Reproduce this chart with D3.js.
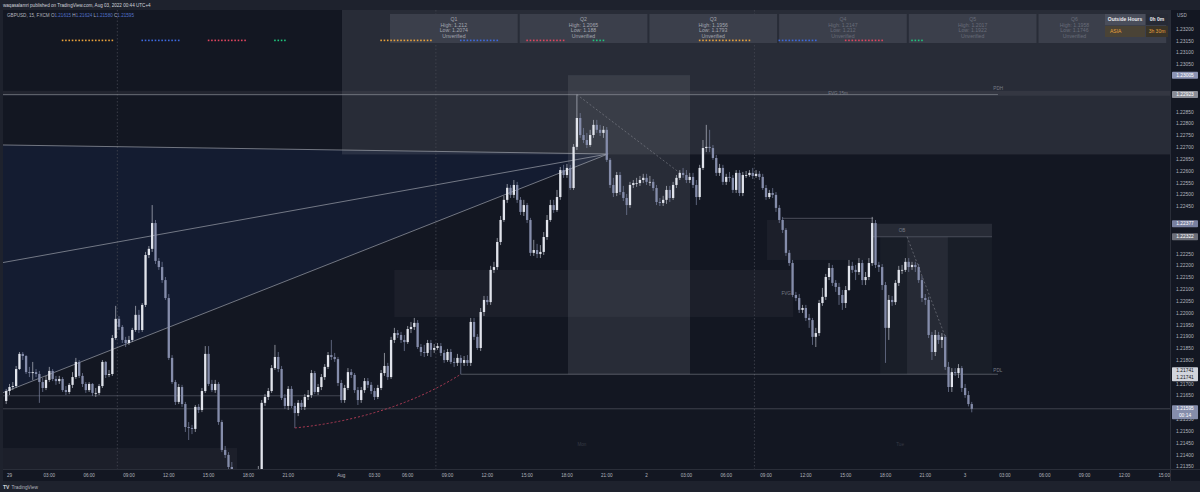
<!DOCTYPE html>
<meta charset="utf-8">
<style>
    body { margin: 0; background: #1e222d; }
    svg { display: block; }
    text { font-family: "Liberation Sans", Arial, sans-serif; }
</style>
<body>
<script src="https://d3js.org/d3.v7.min.js"></script>
<script>
    var width = 1200
    var height = 492

    // GBPUSD 15m, first bar has index -1 (bar 0 = Jul 29 00:00), last bar = Aug 3 00:30
    var firstOpen = 1.21628
    var closes = [
        1.21670, 1.21687, 1.21691, 1.21763, 1.21827, 1.21818, 1.21750, 1.21746, 1.21750, 1.21742,
        1.21708, 1.21683, 1.21717, 1.21755, 1.21721, 1.21712, 1.21721, 1.21674, 1.21666, 1.21696,
        1.21729, 1.21793, 1.21734, 1.21700, 1.21674, 1.21700, 1.21662, 1.21662, 1.21691, 1.21793,
        1.21738, 1.21742, 1.21894, 1.21975, 1.21941, 1.21886, 1.21873, 1.21886, 1.21928, 1.21992,
        1.21928, 1.22034, 1.22245, 1.22271, 1.22380, 1.22220, 1.22194, 1.22139, 1.22063, 1.21810,
        1.21708, 1.21624, 1.21687, 1.21615, 1.21518, 1.21514, 1.21510, 1.21603, 1.21590, 1.21670,
        1.21827, 1.21700, 1.21674, 1.21700, 1.21539, 1.21421, 1.21400, 1.21349, 1.21294, 1.21273,
        1.21302, 1.21260, 1.21286, 1.21269, 1.21294, 1.21302, 1.21336, 1.21620, 1.21645, 1.21670,
        1.21767, 1.21814, 1.21763, 1.21641, 1.21607, 1.21679, 1.21607, 1.21577, 1.21620, 1.21603,
        1.21645, 1.21653, 1.21746, 1.21666, 1.21687, 1.21729, 1.21772, 1.21822, 1.21814, 1.21805,
        1.21704, 1.21632, 1.21683, 1.21750, 1.21738, 1.21674, 1.21632, 1.21674, 1.21712, 1.21696,
        1.21670, 1.21645, 1.21683, 1.21746, 1.21776, 1.21729, 1.21886, 1.21915, 1.21907, 1.21886,
        1.21877, 1.21932, 1.21941, 1.21958, 1.21856, 1.21835, 1.21831, 1.21873, 1.21844, 1.21852,
        1.21860, 1.21831, 1.21801, 1.21835, 1.21793, 1.21789, 1.21810, 1.21789, 1.21801, 1.21789,
        1.21962, 1.21899, 1.21852, 1.22004, 1.22055, 1.22046, 1.22182, 1.22194, 1.22300, 1.22393,
        1.22478, 1.22529, 1.22499, 1.22541, 1.22478, 1.22427, 1.22456, 1.22393, 1.22254, 1.22266,
        1.22249, 1.22258, 1.22321, 1.22393, 1.22456, 1.22435, 1.22490, 1.22604, 1.22583, 1.22613,
        1.22528, 1.22702, 1.22824, 1.22752, 1.22731, 1.22710, 1.22752, 1.22795, 1.22774, 1.22761,
        1.22774, 1.22647, 1.22541, 1.22507, 1.22583, 1.22511, 1.22486, 1.22456, 1.22541, 1.22549,
        1.22549, 1.22562, 1.22571, 1.22554, 1.22554, 1.22528, 1.22469, 1.22465, 1.22478, 1.22520,
        1.22486, 1.22541, 1.22571, 1.22592, 1.22583, 1.22562, 1.22575, 1.22541, 1.22490, 1.22613,
        1.22697, 1.22702, 1.22697, 1.22655, 1.22592, 1.22613, 1.22554, 1.22575, 1.22571, 1.22520,
        1.22592, 1.22507, 1.22583, 1.22583, 1.22592, 1.22579, 1.22588, 1.22575, 1.22528, 1.22490,
        1.22507, 1.22499, 1.22444, 1.22393, 1.22351, 1.22254, 1.22211, 1.22076, 1.22063, 1.22013,
        1.22021, 1.21979, 1.21970, 1.21899, 1.21915, 1.22042, 1.22068, 1.22152, 1.22190, 1.22127,
        1.22110, 1.22076, 1.22042, 1.22097, 1.22199, 1.22182, 1.22173, 1.22211, 1.22139, 1.22152,
        1.22211, 1.22380, 1.22203, 1.22194, 1.22118, 1.21937, 1.22055, 1.22046, 1.22127, 1.22182,
        1.22182, 1.22216, 1.22194, 1.22203, 1.22194, 1.22139, 1.22063, 1.22055, 1.21907, 1.21835,
        1.21907, 1.21886, 1.21899, 1.21772, 1.21687, 1.21750, 1.21746, 1.21767, 1.21683, 1.21653,
        1.21615, 1.21595
    ]
    var highs = [
        1.21679, 1.21700, 1.21708, 1.21776, 1.21835, 1.21835, 1.21822, 1.21772, 1.21793, 1.21763,
        1.21755, 1.21725, 1.21734, 1.21772, 1.21763, 1.21734, 1.21734, 1.21729, 1.21691, 1.21704,
        1.21750, 1.21810, 1.21801, 1.21746, 1.21708, 1.21708, 1.21704, 1.21683, 1.21700, 1.21801,
        1.21797, 1.21759, 1.21907, 1.22030, 1.21987, 1.21949, 1.21899, 1.21903, 1.21937, 1.22030,
        1.22013, 1.22042, 1.22258, 1.22283, 1.22456, 1.22393, 1.22232, 1.22216, 1.22152, 1.22080,
        1.21822, 1.21717, 1.21700, 1.21696, 1.21624, 1.21539, 1.21527, 1.21611, 1.21615, 1.21683,
        1.21860, 1.21860, 1.21717, 1.21717, 1.21708, 1.21548, 1.21438, 1.21412, 1.21370, 1.21311,
        1.21319, 1.21315, 1.21302, 1.21307, 1.21311, 1.21336, 1.21353, 1.21632, 1.21657, 1.21683,
        1.21780, 1.21865, 1.21835, 1.21776, 1.21657, 1.21691, 1.21691, 1.21620, 1.21632, 1.21632,
        1.21657, 1.21674, 1.21759, 1.21755, 1.21700, 1.21742, 1.21784, 1.21835, 1.21886, 1.21831,
        1.21814, 1.21717, 1.21696, 1.21767, 1.21763, 1.21746, 1.21687, 1.21687, 1.21725, 1.21725,
        1.21708, 1.21683, 1.21696, 1.21759, 1.21831, 1.21789, 1.21899, 1.21937, 1.21928, 1.21920,
        1.21907, 1.21945, 1.21962, 1.21979, 1.21970, 1.21869, 1.21865, 1.21886, 1.21886, 1.21869,
        1.21873, 1.21873, 1.21844, 1.21848, 1.21848, 1.21810, 1.21827, 1.21822, 1.21818, 1.21822,
        1.21979, 1.21979, 1.21911, 1.22021, 1.22072, 1.22072, 1.22199, 1.22216, 1.22317, 1.22410,
        1.22495, 1.22545, 1.22541, 1.22562, 1.22554, 1.22490, 1.22478, 1.22465, 1.22402, 1.22309,
        1.22292, 1.22287, 1.22342, 1.22414, 1.22478, 1.22478, 1.22520, 1.22617, 1.22626, 1.22630,
        1.22626, 1.22714, 1.22923, 1.22845, 1.22782, 1.22761, 1.22774, 1.22816, 1.22816, 1.22795,
        1.22790, 1.22786, 1.22655, 1.22571, 1.22596, 1.22596, 1.22537, 1.22503, 1.22554, 1.22562,
        1.22571, 1.22579, 1.22588, 1.22588, 1.22579, 1.22566, 1.22541, 1.22486, 1.22495, 1.22537,
        1.22537, 1.22554, 1.22583, 1.22604, 1.22613, 1.22604, 1.22592, 1.22592, 1.22562, 1.22626,
        1.22731, 1.22795, 1.22774, 1.22710, 1.22668, 1.22630, 1.22626, 1.22588, 1.22596, 1.22583,
        1.22604, 1.22604, 1.22596, 1.22600, 1.22604, 1.22613, 1.22604, 1.22600, 1.22588, 1.22541,
        1.22520, 1.22528, 1.22511, 1.22456, 1.22406, 1.22359, 1.22266, 1.22224, 1.22089, 1.22080,
        1.22034, 1.22034, 1.21996, 1.21979, 1.21937, 1.22055, 1.22106, 1.22165, 1.22211, 1.22203,
        1.22139, 1.22127, 1.22097, 1.22114, 1.22224, 1.22216, 1.22203, 1.22232, 1.22224, 1.22173,
        1.22232, 1.22406, 1.22393, 1.22216, 1.22207, 1.22131, 1.22076, 1.22072, 1.22139, 1.22199,
        1.22203, 1.22232, 1.22232, 1.22216, 1.22216, 1.22207, 1.22156, 1.22080, 1.22068, 1.21920,
        1.21928, 1.21920, 1.21915, 1.21907, 1.21793, 1.21767, 1.21767, 1.21784, 1.21776, 1.21700,
        1.21670, 1.21624
    ]
    var lows = [
        1.21615, 1.21653, 1.21674, 1.21683, 1.21759, 1.21801, 1.21742, 1.21729, 1.21717, 1.21729,
        1.21620, 1.21666, 1.21674, 1.21708, 1.21712, 1.21696, 1.21700, 1.21666, 1.21653, 1.21657,
        1.21683, 1.21721, 1.21725, 1.21687, 1.21662, 1.21666, 1.21649, 1.21645, 1.21653, 1.21683,
        1.21725, 1.21729, 1.21734, 1.21886, 1.21928, 1.21873, 1.21856, 1.21865, 1.21877, 1.21920,
        1.21915, 1.21920, 1.22025, 1.22232, 1.22258, 1.22207, 1.22182, 1.22127, 1.22055, 1.21801,
        1.21700, 1.21611, 1.21615, 1.21603, 1.21497, 1.21463, 1.21488, 1.21497, 1.21577, 1.21581,
        1.21662, 1.21691, 1.21666, 1.21662, 1.21527, 1.21412, 1.21387, 1.21336, 1.21273, 1.21243,
        1.21252, 1.21231, 1.21243, 1.21248, 1.21252, 1.21260, 1.21277, 1.21315, 1.21607, 1.21632,
        1.21662, 1.21759, 1.21750, 1.21632, 1.21594, 1.21590, 1.21598, 1.21514, 1.21564, 1.21590,
        1.21590, 1.21632, 1.21641, 1.21657, 1.21653, 1.21674, 1.21717, 1.21763, 1.21801, 1.21793,
        1.21691, 1.21620, 1.21620, 1.21674, 1.21725, 1.21662, 1.21611, 1.21620, 1.21662, 1.21683,
        1.21657, 1.21632, 1.21636, 1.21674, 1.21734, 1.21717, 1.21721, 1.21873, 1.21894, 1.21873,
        1.21839, 1.21869, 1.21915, 1.21928, 1.21848, 1.21818, 1.21814, 1.21818, 1.21814, 1.21831,
        1.21844, 1.21818, 1.21789, 1.21793, 1.21784, 1.21772, 1.21776, 1.21741, 1.21776, 1.21776,
        1.21776, 1.21886, 1.21844, 1.21839, 1.21987, 1.22034, 1.22034, 1.22169, 1.22182, 1.22287,
        1.22385, 1.22465, 1.22486, 1.22486, 1.22465, 1.22414, 1.22410, 1.22380, 1.22241, 1.22241,
        1.22232, 1.22232, 1.22245, 1.22309, 1.22385, 1.22423, 1.22427, 1.22478, 1.22571, 1.22571,
        1.22520, 1.22520, 1.22689, 1.22740, 1.22718, 1.22697, 1.22702, 1.22740, 1.22761, 1.22748,
        1.22740, 1.22638, 1.22528, 1.22490, 1.22494, 1.22499, 1.22473, 1.22414, 1.22444, 1.22528,
        1.22533, 1.22537, 1.22549, 1.22541, 1.22537, 1.22516, 1.22456, 1.22452, 1.22452, 1.22461,
        1.22469, 1.22478, 1.22528, 1.22562, 1.22571, 1.22549, 1.22549, 1.22528, 1.22456, 1.22478,
        1.22604, 1.22680, 1.22680, 1.22647, 1.22579, 1.22579, 1.22541, 1.22541, 1.22554, 1.22507,
        1.22507, 1.22494, 1.22494, 1.22571, 1.22575, 1.22566, 1.22571, 1.22562, 1.22520, 1.22478,
        1.22482, 1.22486, 1.22427, 1.22380, 1.22338, 1.22241, 1.22199, 1.22067, 1.22050, 1.22000,
        1.22000, 1.21966, 1.21937, 1.21865, 1.21856, 1.21903, 1.22030, 1.22055, 1.22139, 1.22114,
        1.22089, 1.22034, 1.22013, 1.22021, 1.22093, 1.22169, 1.22139, 1.22161, 1.22118, 1.22118,
        1.22139, 1.22199, 1.22190, 1.22173, 1.22097, 1.21789, 1.21886, 1.22030, 1.22034, 1.22114,
        1.22165, 1.22173, 1.22173, 1.22182, 1.22173, 1.22127, 1.22046, 1.22034, 1.21894, 1.21801,
        1.21818, 1.21869, 1.21852, 1.21759, 1.21666, 1.21666, 1.21734, 1.21725, 1.21666, 1.21641,
        1.21605, 1.21580
    ]

    var priceTicks = [
        1.2135, 1.2140, 1.2145, 1.2150, 1.2155, 1.2160, 1.2165, 1.2170, 1.2175, 1.2180,
        1.2185, 1.2190, 1.2195, 1.2200, 1.2205, 1.2210, 1.2215, 1.2220, 1.2225, 1.2230,
        1.2235, 1.2240, 1.2245, 1.2250, 1.2255, 1.2260, 1.2265, 1.2270, 1.2275, 1.2280,
        1.2285, 1.2290, 1.2295, 1.2300, 1.2305, 1.2310, 1.2315, 1.2320
    ]
    var timeLabels = ['29', '03:00', '06:00', '09:00', '12:00', '15:00', '18:00', '21:00', 'Aug', '03:30',
        '06:00', '09:00', '12:00', '15:00', '18:00', '21:00', '2', '03:00', '06:00', '09:00', '12:00',
        '15:00', '18:00', '21:00', '3', '03:00', '06:00', '09:00', '12:00', '15:00']
    var timeLabelBars = [0, 12, 24, 36, 48, 60, 72, 84, 100, 110, 120, 132, 144, 156, 168, 180, 192,
        204, 216, 228, 240, 252, 264, 276, 288, 300, 312, 324, 336, 348]
    var daySeparators = [32.5, 128.5, 224.5]

    var asiaBars = [[16, 31], [112, 127], [208, 223]]
    var londonBars = [[40, 51], [136, 147], [232, 243]]
    var nyBars = [[60, 71], [156, 167], [252, 263]]
    var lateBars = [[80, 83], [176, 179], [272, 275]]

    var quarterNames = ['Q1', 'Q2', 'Q3', 'Q4', 'Q5', 'Q6']
    var quarterHighs = ['1.212', '1.2065', '1.1956', '1.2147', '1.2017', '1.1958']
    var quarterLows = ['1.2074', '1.188', '1.1793', '1.212', '1.1922', '1.1746']

    // zones: [bar from, bar to, price low, price high]
    var weekZone = [100.2, 352, 1.2267, 1.2340]
    var rangeZoneA = [168.3, 205.1, 1.21741, 1.23005]
    var fvgZone = [116, 236.2, 1.21983, 1.22182]
    var fvgZone2 = [228.3, 260.3, 1.22224, 1.22393]
    var obZone = [260.3, 296.1, 1.22322, 1.22377]
    var rangeZoneB = [262.4, 296.1, 1.21741, 1.22322]
    var rangeZoneBInner = [270.5, 282.8, 1.21741, 1.22322]
    var lowZone = [-4, 68.6, 1.2120, 1.21429]
    var fvg15Zone = [-4, 352, 1.22918, 1.22939]

    var fanApex = [180.4, 1.22672]
    var fanAnchors = [[-2, 1.22710], [-2, 1.22213], [-2, 1.21663]]
    var pdh = 1.22923
    var pdl = 1.21741
    var oldLevel = 1.2165
    var lastPrice = 1.21595
    var fvg2Top = [[233, 1.2240], [260.3, 1.2240]]
    var dashedLegs = [[[171, 1.22923], [202, 1.22592]], [[270.5, 1.22322], [282, 1.21900]]]
    var curvePts = [[86, 1.21514], [115, 1.21556], [136, 1.21741]]

    var x = d3.scaleLinear().domain([0, 348]).range([9.5, 1164.2])
    var y = d3.scaleLinear().domain([1.2135, 1.2330]).range([466.75, 5.38])

    var plot = { l: 3, r: 1170, t: 10, b: 469 }

    var svg = d3.select('body').append('svg')
        .attr('width', width)
        .attr('height', height)

    svg.append('rect').attr('x', 3).attr('y', 10).attr('width', 1197).attr('height', 471).attr('fill', '#131722')

    svg.append('clipPath').attr('id', 'plot').append('rect')
        .attr('x', plot.l).attr('y', plot.t).attr('width', plot.r - plot.l).attr('height', plot.b - plot.t)

    var g = svg.append('g').attr('clip-path', 'url(#plot)')

    function zone(z, op) {
        g.append('rect')
            .attr('x', x(z[0])).attr('width', x(z[1]) - x(z[0]))
            .attr('y', y(z[3])).attr('height', y(z[2]) - y(z[3]))
            .attr('fill', '#787b86').attr('fill-opacity', op)
    }

    // fan fill
    g.append('path')
        .attr('d', 'M' + x(fanAnchors[0][0]) + ',' + y(fanAnchors[0][1]) + 'L' + x(fanApex[0]) + ',' + y(fanApex[1]) +
            'L' + x(fanAnchors[2][0]) + ',' + y(fanAnchors[2][1]) + 'Z')
        .attr('fill', '#1f3a9a').attr('fill-opacity', 0.13)

    zone(weekZone, 0.22)
    zone(rangeZoneA, 0.22)
    zone(fvgZone, 0.09)
    zone(fvgZone2, 0.09)
    zone(obZone, 0.2)
    zone(rangeZoneB, 0.07)
    zone(rangeZoneBInner, 0.14)
    zone(lowZone, 0.09)
    zone(fvg15Zone, 0.15)

    g.selectAll('.sep').data(daySeparators).enter().append('line')
        .attr('x1', function (d) { return x(d) }).attr('x2', function (d) { return x(d) })
        .attr('y1', plot.t).attr('y2', plot.b)
        .attr('stroke', '#434651').attr('stroke-width', 0.8).attr('stroke-dasharray', '1.5,2')

    function hline(p, b0, b1, col, op) {
        g.append('line').attr('x1', x(b0)).attr('x2', x(b1)).attr('y1', y(p)).attr('y2', y(p))
            .attr('stroke', col).attr('stroke-width', 0.8).attr('stroke-opacity', op)
    }
    hline(pdh, -4, 297.9, '#9598a1', 0.7)
    hline(pdl, 136, 297.9, '#9598a1', 0.6)
    hline(oldLevel, -4, 100, '#787b86', 0.6)
    hline(lastPrice, -4, 360, '#787b86', 0.55)
    hline(fvg2Top[0][1], fvg2Top[0][0], fvg2Top[1][0], '#787b86', 0.7)
    hline(obZone[2], obZone[0], obZone[1], '#787b86', 0.6)

    fanAnchors.forEach(function (a) {
        g.append('line').attr('x1', x(a[0])).attr('y1', y(a[1])).attr('x2', x(fanApex[0])).attr('y2', y(fanApex[1]))
            .attr('stroke', '#b2b5be').attr('stroke-width', 0.8).attr('stroke-opacity', 0.75)
    })

    dashedLegs.forEach(function (l) {
        g.append('line').attr('x1', x(l[0][0])).attr('y1', y(l[0][1])).attr('x2', x(l[1][0])).attr('y2', y(l[1][1]))
            .attr('stroke', '#9598a1').attr('stroke-width', 0.8).attr('stroke-opacity', 0.6).attr('stroke-dasharray', '2,2')
    })

    g.append('path')
        .attr('d', 'M' + x(curvePts[0][0]) + ',' + y(curvePts[0][1]) + 'Q' + x(curvePts[1][0]) + ',' + y(curvePts[1][1]) +
            ' ' + x(curvePts[2][0]) + ',' + y(curvePts[2][1]))
        .attr('fill', 'none').attr('stroke', '#c2405a').attr('stroke-width', 0.9).attr('stroke-dasharray', '2,2')

    // candles
    var bars = closes.map(function (c, k) {
        return { i: k - 1, o: k ? closes[k - 1] : firstOpen, c: c, h: highs[k], l: lows[k] }
    })
    var up = '#e1e4ec'
    var down = '#858dab'
    var candle = g.selectAll('.bar').data(bars).enter().append('g')
    candle.append('line')
        .attr('x1', function (d) { return x(d.i) }).attr('x2', function (d) { return x(d.i) })
        .attr('y1', function (d) { return y(Math.max(d.h, d.o, d.c)) })
        .attr('y2', function (d) { return y(Math.min(d.l, d.o, d.c)) })
        .attr('stroke', function (d) { return d.c >= d.o ? '#b8bbc6' : '#7a82a0' })
        .attr('stroke-width', 0.7)
    candle.append('rect')
        .attr('x', function (d) { return x(d.i) - 1.15 })
        .attr('width', 2.3)
        .attr('y', function (d) { return y(Math.max(d.o, d.c)) })
        .attr('height', function (d) { return Math.max(0.8, Math.abs(y(d.o) - y(d.c))) })
        .attr('fill', function (d) { return d.c >= d.o ? up : down })

    // drawing labels
    function label(t, b, p, anchor) {
        g.append('text').attr('x', x(b)).attr('y', y(p)).attr('dy', '0.35em')
            .attr('text-anchor', anchor || 'middle').attr('font-size', 4.6).attr('fill', '#787b86').text(t)
    }
    label('FVG 15m', 249.7, 1.22928)
    label('PDH', 296.5, 1.22951, 'start')
    label('PDL', 296.5, 1.21759, 'start')
    label('FVG', 235.5, 1.22083, 'end')
    label('OB', 269, 1.2235)
    g.append('text').attr('x', x(172.5)).attr('y', 445.5).attr('text-anchor', 'middle')
        .attr('font-size', 4.6).attr('fill', '#363a45').text('Mon')
    g.append('text').attr('x', x(268.4)).attr('y', 445.5).attr('text-anchor', 'middle')
        .attr('font-size', 4.6).attr('fill', '#363a45').text('Tue')

    // quarter table; the last column sits partly under the session table
    var qw = 129.7
    var qg = svg.selectAll('.q').data(quarterNames).enter().append('g')
        .attr('transform', function (d, k) { return 'translate(' + (390 + k * qw) + ',14)' })
    qg.append('rect').attr('width', qw - 2).attr('height', 29).attr('fill', '#3b3f4b')
    var qText = function (k) { return k < 3 ? '#a3a6af' : '#686c79' }
    var qMid = function (k) { return k < 5 ? (qw - 2) / 2 : 36 }
    var qLines = [
        function (d) { return d },
        function (d, k) { return 'High: ' + quarterHighs[k] },
        function (d, k) { return 'Low: ' + quarterLows[k] },
        function () { return 'Unverified' }
    ]
    qLines.forEach(function (fn, n) {
        qg.append('text').attr('x', function (d, k) { return qMid(k) }).attr('y', 7 + n * 5.6)
            .attr('text-anchor', 'middle').attr('font-size', 5.2)
            .attr('fill', function (d, k) { return qText(k) }).text(fn)
    })

    // session dots
    function dots(ranges, col) {
        ranges.forEach(function (r) {
            var idx = []
            for (var b = r[0]; b <= r[1]; b++) idx.push(b)
            svg.selectAll(null).data(idx).enter().append('rect')
                .attr('x', function (d) { return x(d) - 0.8 }).attr('y', 39.6)
                .attr('width', 1.6).attr('height', 1.6).attr('fill', col)
        })
    }
    dots(asiaBars, '#e9a23b')
    dots(londonBars, '#3d6ae0')
    dots(nyBars, '#e0455f')
    dots(lateBars, '#1fc67d')

    // outside hours table
    var tb = svg.append('g').attr('transform', 'translate(1105,14)')
    tb.append('rect').attr('width', 40).attr('height', 11).attr('fill', '#4a4e5b')
    tb.append('rect').attr('x', 41).attr('width', 22).attr('height', 11).attr('fill', '#262a35')
    tb.append('rect').attr('y', 12).attr('width', 40).attr('height', 11).attr('fill', '#4a4336')
    tb.append('rect').attr('x', 41).attr('y', 12).attr('width', 22).attr('height', 11).attr('fill', '#3a3428')
    tb.append('text').attr('x', 20).attr('y', 7.4).attr('text-anchor', 'middle').attr('font-size', 5)
        .attr('font-weight', 'bold').attr('fill', '#e8e9ed').text('Outside Hours')
    tb.append('text').attr('x', 52).attr('y', 7.4).attr('text-anchor', 'middle').attr('font-size', 5)
        .attr('font-weight', 'bold').attr('fill', '#e8e9ed').text('0h 0m')
    tb.append('text').attr('x', 5).attr('y', 19.4).attr('font-size', 5)
        .attr('fill', '#e9a23b').text('ASIA')
    tb.append('text').attr('x', 52).attr('y', 19.4).attr('text-anchor', 'middle').attr('font-size', 5)
        .attr('fill', '#e9a23b').text('3h 30m')

    // price axis
    svg.append('line').attr('x1', 1170.5).attr('x2', 1170.5).attr('y1', 10).attr('y2', 481)
        .attr('stroke', '#2a2e39').attr('stroke-width', 1)
    var markPrices = [1.23005, 1.22923, 1.22377, 1.22322, 1.21741, 1.21595]
    svg.append('g').selectAll('text').data(priceTicks.filter(function (p) {
        return y(p) > 20 && markPrices.every(function (m) { return Math.abs(y(m) - y(p)) > 6.5 })
    })).enter().append('text')
        .attr('x', 1176).attr('y', function (d) { return y(d) }).attr('dy', '0.35em')
        .attr('font-size', 4.9).attr('fill', '#b2b5be').text(function (d) { return d.toFixed(5) })
    svg.append('text').attr('x', 1177).attr('y', 16.6).attr('font-size', 4.6).attr('fill', '#b2b5be').text('USD')

    function mark(p, lines, bg, fg, dyOff) {
        var h = 7 * lines.length
        var top = y(p) - 3.5 + (dyOff || 0)
        svg.append('rect').attr('x', 1172).attr('y', top).attr('width', 26).attr('height', h).attr('fill', bg).attr('rx', 0.8)
        lines.forEach(function (t, k) {
            svg.append('text').attr('x', 1185).attr('y', top + 3.5 + k * 7).attr('dy', '0.35em')
                .attr('text-anchor', 'middle').attr('font-size', 4.9).attr('fill', fg).text(t)
        })
    }
    mark(markPrices[0], [markPrices[0].toFixed(5)], '#8c94b4', '#ffffff')
    mark(markPrices[1], [markPrices[1].toFixed(5)], '#8a8d97', '#ffffff')
    mark(markPrices[2], [markPrices[2].toFixed(5)], '#7880a0', '#ffffff')
    mark(markPrices[3], [markPrices[3].toFixed(5)], '#6c6f79', '#ffffff')
    mark(markPrices[4], [markPrices[4].toFixed(5), markPrices[4].toFixed(5)], '#d1d4dc', '#131722', -3.5)
    mark(markPrices[5], [markPrices[5].toFixed(5), '00:14'], '#858dab', '#ffffff')

    // time axis
    svg.append('line').attr('x1', 3).attr('x2', 1200).attr('y1', 469.5).attr('y2', 469.5)
        .attr('stroke', '#2a2e39').attr('stroke-width', 1)
    svg.append('g').selectAll('text').data(timeLabels).enter().append('text')
        .attr('x', function (d, k) { return x(timeLabelBars[k]) }).attr('y', 476.6)
        .attr('text-anchor', 'middle').attr('font-size', 4.6).attr('fill', '#b2b5be').text(function (d) { return d })

    // header and footer
    svg.append('text').attr('x', 3).attr('y', 6.9).attr('font-size', 4.6).attr('fill', '#d1d4dc')
        .text('waqasalamri published on TradingView.com, Aug 03, 2022 00:44 UTC+4')
    var last = bars[bars.length - 1]
    var sym = svg.append('text').attr('x', 7).attr('y', 16.6).attr('font-size', 4.6).attr('fill', '#b2b5be')
    sym.append('tspan').text('GBPUSD, 15, FXCM  O')
    sym.append('tspan').attr('fill', '#5271c9').text(last.o.toFixed(5))
    sym.append('tspan').text(' H')
    sym.append('tspan').attr('fill', '#5271c9').text(last.h.toFixed(5))
    sym.append('tspan').text(' L')
    sym.append('tspan').attr('fill', '#5271c9').text(last.l.toFixed(5))
    sym.append('tspan').text(' C')
    sym.append('tspan').attr('fill', '#5271c9').text(last.c.toFixed(5))

    svg.append('text').attr('x', 3).attr('y', 489).attr('font-size', 5).attr('font-weight', 'bold')
        .attr('fill', '#d1d4dc').text('TV')
    svg.append('text').attr('x', 11.5).attr('y', 489).attr('font-size', 4.8).attr('fill', '#b2b5be').text('TradingView')
</script>
</body>
